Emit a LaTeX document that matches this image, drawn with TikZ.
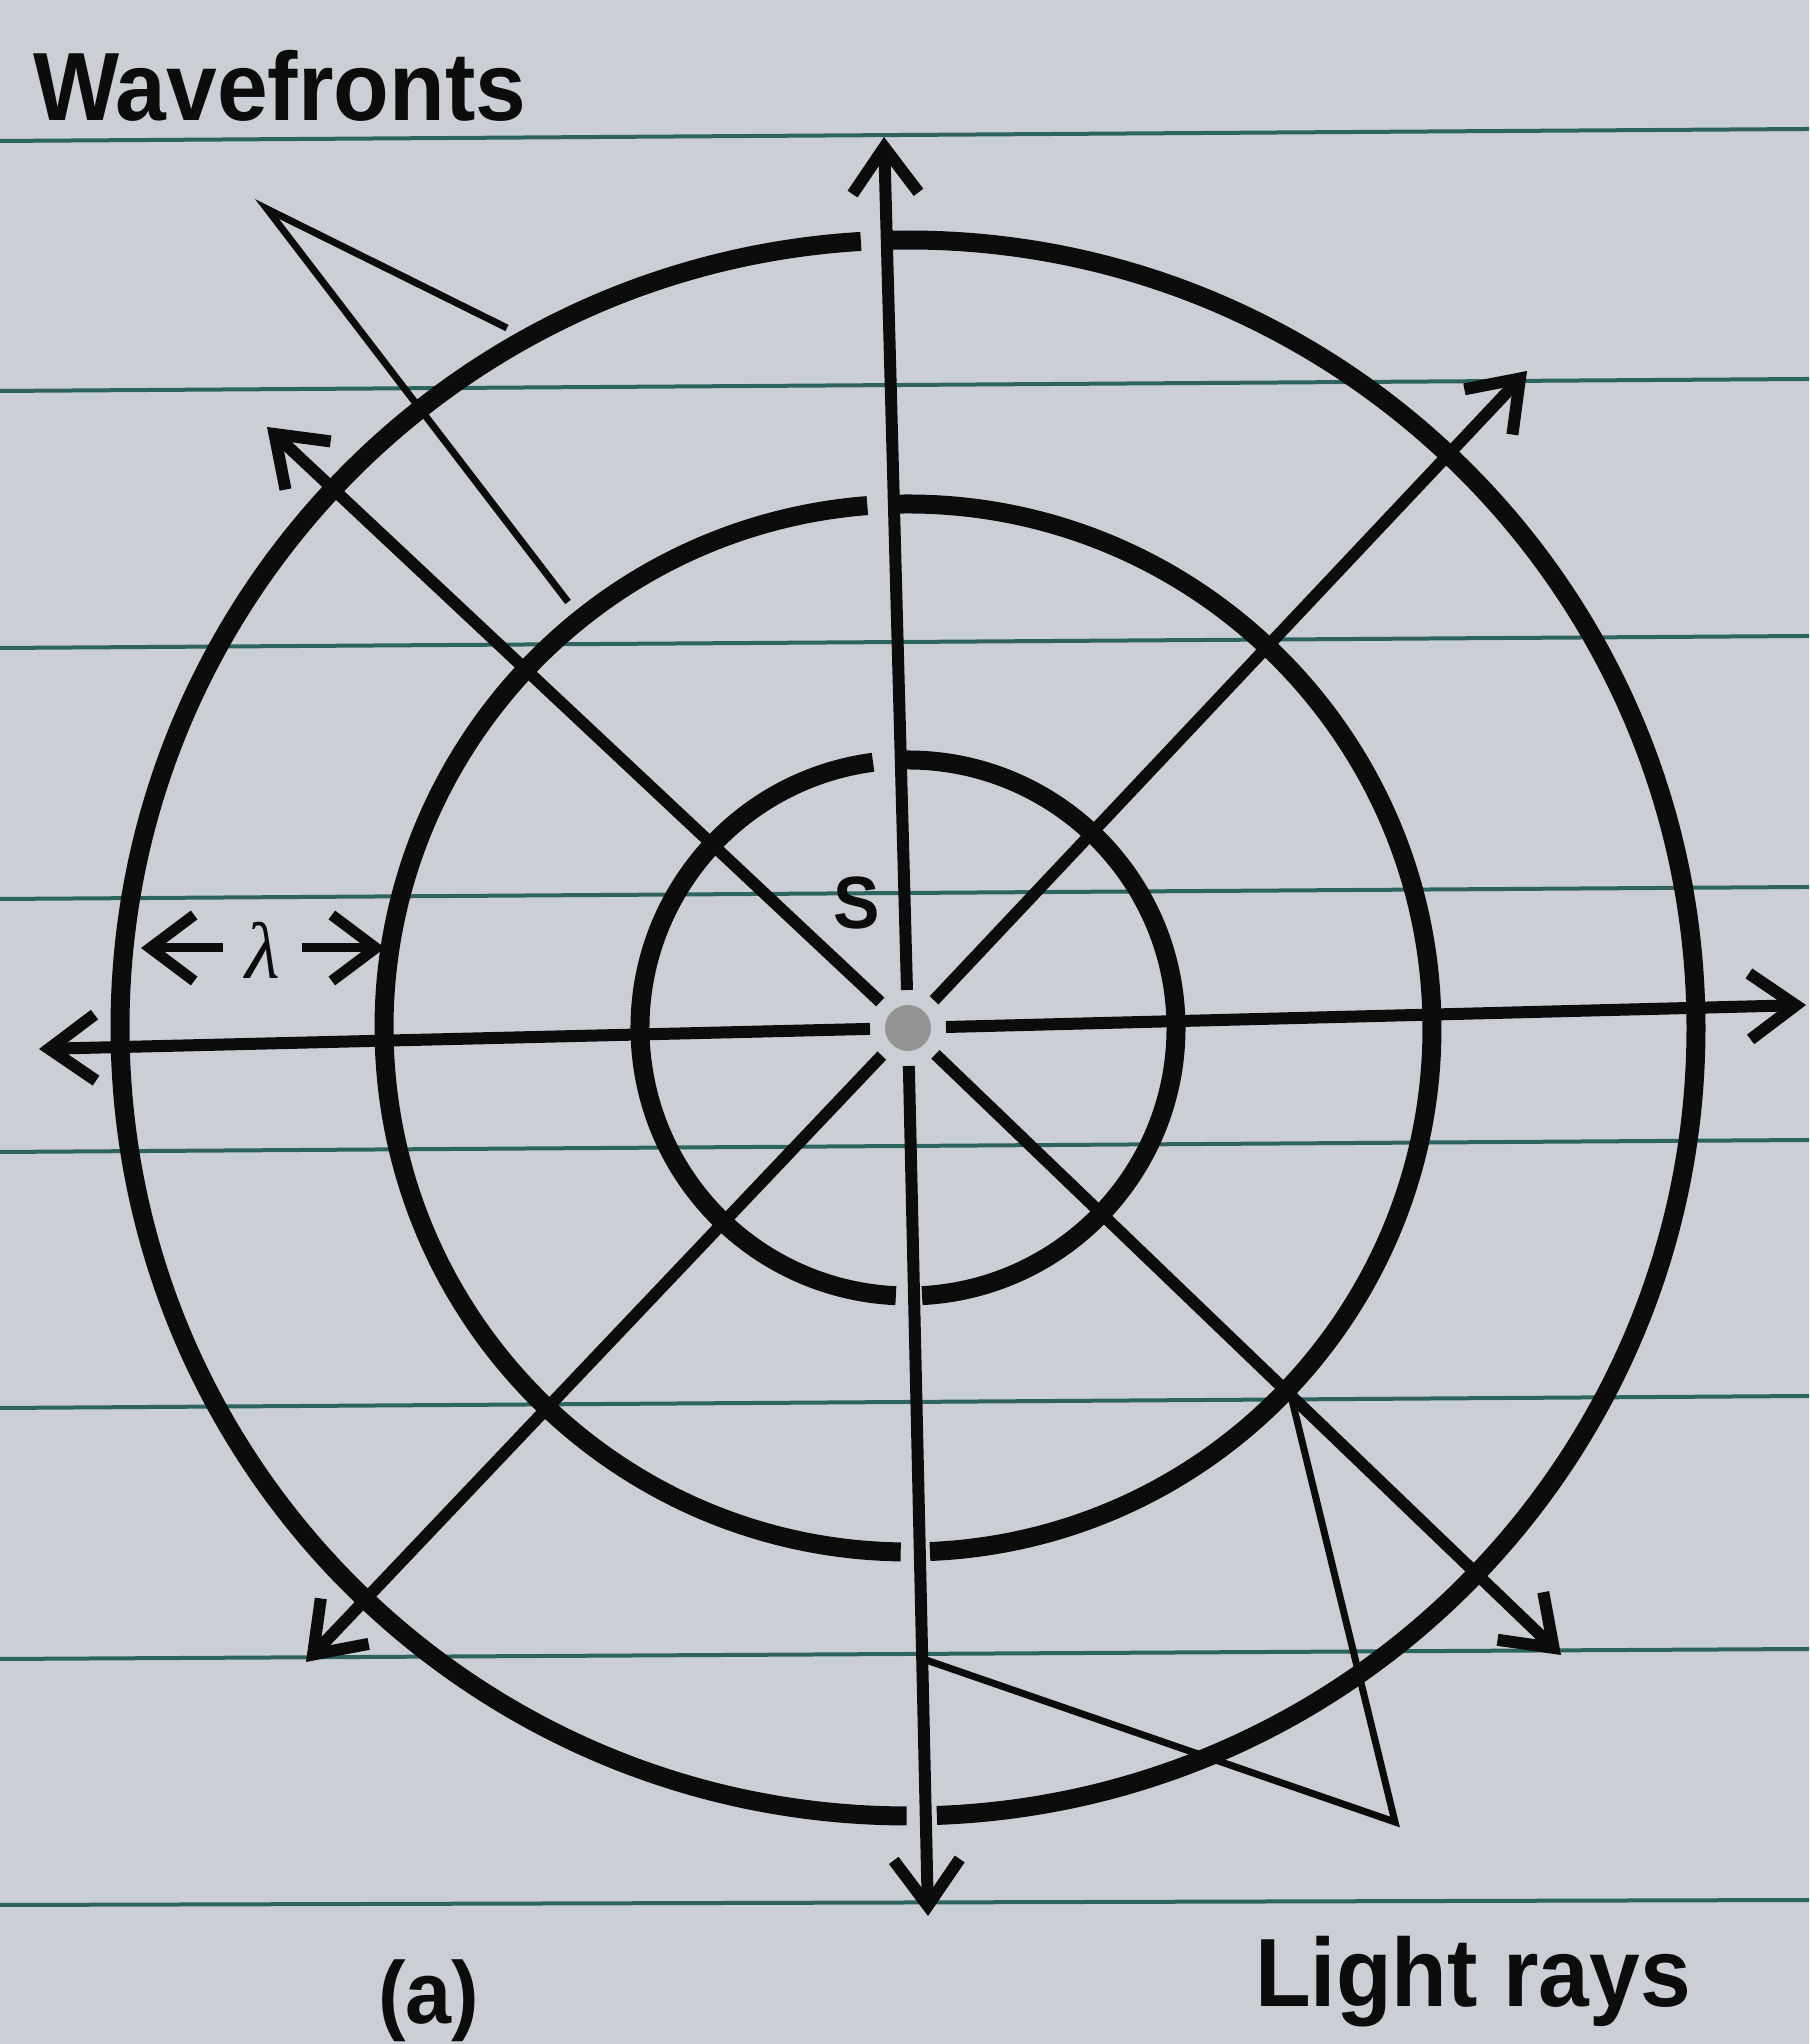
\documentclass[tikz,border=0pt]{standalone}
\usepackage{fontspec}
\setmainfont{Liberation Sans}
\newfontfamily\labfont{Liberation Sans}[FakeStretch=0.94]
\newfontfamily\lamfont{Liberation Serif}
\usetikzlibrary{arrows.meta,calc}
\definecolor{paper}{RGB}{203,206,213}
\definecolor{rulecol}{RGB}{45,100,95}
\definecolor{ink}{RGB}{12,12,12}
\begin{document}
\begin{tikzpicture}[x=1pt,y=1pt,
  wave/.style={line width=19pt,draw=ink},
  ray/.style={line width=12pt,draw=ink,-{Straight Barb[length=46pt,width=66pt,line width=12pt]}},
  ptr/.style={line width=7pt,draw=ink,line join=miter},
  lamarrow/.style={line width=9pt,draw=ink,-{Straight Barb[length=44pt,width=66pt,line width=11pt]}},
  ruled/.style={line width=4pt,draw=rulecol},
  lbl/.style={font=\labfont\bfseries\fontsize{97pt}{100pt}\selectfont,inner sep=0pt,text=ink}]
\fill[paper] (0,0) rectangle (1809,2044);
\useasboundingbox (0,0) rectangle (1809,2044);
% ruled paper lines
\foreach \yl/\yr in {1903/1915,1653/1665,1396/1408,1145/1157,892/904,636/648,385/395,139/144}
  \draw[ruled] (0,\yl) -- (1809,\yr);
% source
\coordinate (C) at (908,1016);
% wavefronts (arcs with small gaps at the vertical ray)
\draw[wave] ($(C)+(93.43:788pt)$) arc[start angle=93.43,end angle=269.9,radius=788pt];
\draw[wave] ($(C)+(272.1:788pt)$) arc[start angle=272.1,end angle=451.17,radius=788pt];
\draw[wave] ($(C)+(94.45:524pt)$) arc[start angle=94.45,end angle=269.2,radius=524pt];
\draw[wave] ($(C)+(272.4:524pt)$) arc[start angle=272.4,end angle=450.95,radius=524pt];
\draw[wave] ($(C)+(97.5:268pt)$) arc[start angle=97.5,end angle=267.4,radius=268pt];
\draw[wave] ($(C)+(273.0:268pt)$) arc[start angle=273.0,end angle=451.9,radius=268pt];
% ray ends
\coordinate (tN) at (884,1907);
\coordinate (tS) at (928,128);
\coordinate (tW) at (39,995);
\coordinate (tE) at (1806,1039);
\coordinate (tNE) at (1527,1673);
\coordinate (tSW) at (306,382);
\coordinate (tNW) at (267,1617);
\coordinate (tSE) at (1561,389);
\foreach \t in {tN,tS,tW,tE,tNE,tSW,tNW,tSE}
  \draw[ray] ($(C)!38pt!(\t)$) -- (\t);
\fill[black!42] (C) circle[radius=23pt];
% pointer lines
\coordinate (wA) at (267,1835);
\coordinate (w1) at (507,1716);
\coordinate (w2) at (568,1442);
\draw[ptr] (w1) -- (wA) -- (w2);
\coordinate (lA) at (1395,222);
\coordinate (l1) at (926,384);
\coordinate (l2) at (1290,652);
\draw[ptr] (l1) -- (lA) -- (l2);
% lambda
\coordinate (lamLt) at (223,1096);
\coordinate (lamL) at (141,1096);
\coordinate (lamRt) at (302,1096);
\coordinate (lamR) at (385,1096);
\draw[lamarrow] (lamLt) -- (lamL);
\draw[lamarrow] (lamRt) -- (lamR);
\node[inner sep=0pt,text=ink,font=\lamfont\itshape\fontsize{80pt}{80pt}\selectfont] (lam) at (263,1094) {λ};
% labels
\node[lbl,anchor=base west] (wavefronts) at (33,1923) {Wavefronts};
\node[lbl,anchor=base west] (lightrays) at (1255,37) {Light rays};
\node[lbl,font=\labfont\bfseries\fontsize{74pt}{76pt}\selectfont] (S) at (857,1141) {S};
\node[lbl,anchor=base west,font=\labfont\bfseries\fontsize{88pt}{90pt}\selectfont] (a) at (378,20) {(a)};
\end{tikzpicture}
\end{document}
